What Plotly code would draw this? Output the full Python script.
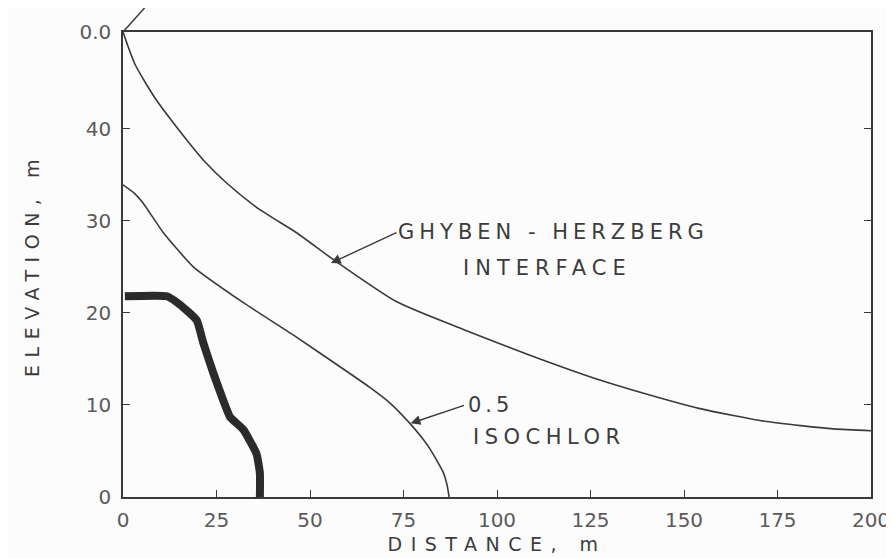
import plotly.graph_objects as go

# ---- data ----
interface_x = [0, 3.2, 8.6, 13.9, 21.9, 27.7, 36.6, 46.4, 56.2, 73.2, 91.0, 108.8, 127.5, 136.4, 154.3, 172.1, 190.0, 200.0]
interface_y = [50.5, 47.0, 43.3, 40.4, 36.4, 34.1, 31.2, 28.7, 25.8, 21.2, 18.2, 15.4, 12.7, 11.6, 9.6, 8.2, 7.4, 7.2]

isochlor_x = [0, 3.0, 5.4, 10.8, 18.8, 32.2, 45.5, 58.9, 66.0, 71.4, 76.7, 80.0, 82.1, 84.0, 85.6, 86.6, 87.2]
isochlor_y = [33.9, 33.0, 31.9, 28.7, 25.0, 21.1, 17.6, 13.9, 11.9, 10.2, 8.0, 6.4, 5.2, 3.9, 2.7, 1.4, 0.0]

thick_x = [0.5, 11.7, 15.2, 19.7, 21.5, 24.2, 26.8, 28.6, 32.2, 35.7, 36.6, 36.6]
thick_y = [21.8, 21.8, 20.9, 19.2, 16.7, 13.4, 10.5, 8.7, 7.3, 4.7, 2.6, 0.0]

x_ticks = [0, 25, 50, 75, 100, 125, 150, 175, 200]
y_ticks = [0, 10, 20, 30, 40, 50.5]
y_ticktext = ["0", "10", "20", "30", "40", "0.0"]

LINE = "#3a3a3a"
TXT = "#5a5a5a"
DARK = "#3c3c3c"
FONT = "DejaVu Sans"


def spaced(s, px):
    return f'<span style="letter-spacing:{px}px">{s}</span>'


fig = go.Figure()
fig.add_trace(go.Scatter(x=interface_x, y=interface_y, mode="lines",
                         line=dict(color=LINE, width=1.6, shape="spline", smoothing=0.6),
                         name="Ghyben-Herzberg interface", showlegend=False))
fig.add_trace(go.Scatter(x=isochlor_x, y=isochlor_y, mode="lines",
                         line=dict(color=LINE, width=1.6, shape="spline", smoothing=0.5),
                         name="0.5 isochlor", showlegend=False))
fig.add_trace(go.Scatter(x=thick_x, y=thick_y, mode="lines",
                         line=dict(color="#2b2b2b", width=8, shape="spline", smoothing=0.4),
                         name="observed", showlegend=False))

# arrows
fig.add_annotation(x=55.6, y=25.4, ax=73.5, ay=28.8, axref="x", ayref="y",
                   showarrow=True, arrowhead=2, arrowsize=1.4, arrowwidth=1.4,
                   arrowcolor=LINE, text="")
fig.add_annotation(x=76.9, y=8.0, ax=91.6, ay=10.0, axref="x", ayref="y",
                   showarrow=True, arrowhead=2, arrowsize=1.4, arrowwidth=1.4,
                   arrowcolor=LINE, text="")

# labels
lab_font = dict(family=FONT, size=21, color=DARK)
fig.add_annotation(x=115, y=28.8, text=spaced("GHYBEN - HERZBERG", 5),
                   showarrow=False, font=lab_font)
fig.add_annotation(x=113.4, y=24.9, text=spaced("INTERFACE", 6),
                   showarrow=False, font=lab_font)
fig.add_annotation(x=91.8, y=10.0, xanchor="left", text=spaced("0.5", 4),
                   showarrow=False, font=lab_font)
fig.add_annotation(x=93.0, y=6.5, xanchor="left", text=spaced("ISOCHLOR", 5.5),
                   showarrow=False, font=lab_font)

# small stroke above the top-left corner
fig.add_shape(type="line", xref="paper", yref="paper",
              x0=0, y0=1, x1=0.029, y1=1.052,
              line=dict(color=LINE, width=1.5))

fig.update_xaxes(range=[0, 200], tickvals=x_ticks, ticks="inside", ticklen=7,
                 tickcolor=LINE, showline=True, linecolor=LINE, linewidth=1.5,
                 mirror=True, showgrid=False, zeroline=False, automargin=False,
                 ticklabelstandoff=4,
                 tickfont=dict(family=FONT, size=20, color=TXT),
                 title=dict(text=spaced("DISTANCE, m", 8.5), standoff=7,
                            font=dict(family=FONT, size=19, color=DARK)))
fig.update_yaxes(range=[0, 50.5], tickvals=y_ticks, ticktext=y_ticktext,
                 ticks="inside", ticklen=7, tickcolor=LINE, showline=True,
                 linecolor=LINE, linewidth=1.5, mirror="ticks", showgrid=False,
                 zeroline=False, ticklabelstandoff=6, automargin=False,
                 tickfont=dict(family=FONT, size=20, color=TXT),
                 title=dict(text=spaced("ELEVATION, m", 7.5), standoff=35,
                            font=dict(family=FONT, size=19, color=DARK)))

# the page adds an 8px body margin, so the figure is sized to fit the window
fig.update_layout(width=886, height=550,
                  margin=dict(l=115, r=23, t=24, b=61),
                  paper_bgcolor="#fcfcfc", plot_bgcolor="#fcfcfc",
                  showlegend=False)

fig.write_html("out.html")
